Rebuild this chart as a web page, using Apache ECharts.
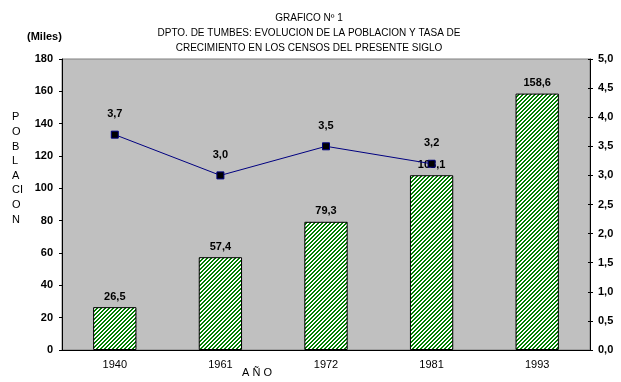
<!DOCTYPE html>
<html>
<head>
<meta charset="utf-8">
<script src="https://cdn.jsdelivr.net/npm/echarts@6/dist/echarts.min.js"></script>
<style>html,body{margin:0;padding:0;background:#fff;}#c{width:621px;height:382px;}</style>
</head>
<body>
<div id="c"></div>
<script>
var years = ['1940', '1961', '1972', '1981', '1993'];
var poblacion = [26.5, 57.4, 79.3, 108.1, 158.6];
var tasa = [3.7, 3.0, 3.5, 3.2];
var leftTicks = [0, 180, 20];
var rightTicks = [0, 5, 0.5];

function fmt(v, d) { return Number(v).toFixed(d).replace('.', ','); }

var tile = document.createElement('canvas');
tile.width = 4; tile.height = 4;
var tctx = tile.getContext('2d');
tctx.fillStyle = '#ffffff'; tctx.fillRect(0, 0, 4, 4);
tctx.fillStyle = '#008000';
for (var x = 0; x < 4; x++) for (var y = 0; y < 4; y++) {
  if ((x + y) % 4 < 2) tctx.fillRect(x, y, 1, 1);
}

var FONT = 'Liberation Sans, Arial, sans-serif';
var chart = echarts.init(document.getElementById('c'), null, {renderer: 'canvas'});
chart.setOption({
  animation: false,
  backgroundColor: '#ffffff',
  textStyle: {fontFamily: FONT},
  title: {
    text: 'GRAFICO Nº 1\nDPTO. DE TUMBES: EVOLUCION DE LA POBLACION Y TASA DE\nCRECIMIENTO EN LOS CENSOS DEL PRESENTE SIGLO',
    left: 304, top: 6, textAlign: 'center',
    textStyle: {fontFamily: FONT, fontSize: 10, fontWeight: 'normal', color: '#000', lineHeight: 15}
  },
  graphic: [
    {type: 'text', left: 27, top: 31, style: {text: '(Miles)', font: 'bold 11px ' + FONT, fill: '#000'}},
    {type: 'text', left: 12, top: 110, style: {text: 'P\nO\nB\nL\nA\nCI\nO\nN', font: '11px ' + FONT, fill: '#000', lineHeight: 14.6, textAlign: 'left'}},
    {type: 'text', left: 242, top: 367, style: {text: 'A Ñ O', font: '11px ' + FONT, fill: '#000'}}
  ],
  grid: {left: 62, right: 31, top: 59, bottom: 32, show: true, backgroundColor: '#c0c0c0', borderColor: '#808080', borderWidth: 1},
  xAxis: {
    type: 'category', data: years,
    axisLine: {lineStyle: {color: '#000', width: 1}},
    axisTick: {length: 4, lineStyle: {color: '#000'}},
    axisLabel: {color: '#000', fontSize: 11, margin: 9, fontFamily: FONT}
  },
  yAxis: [
    {
      type: 'value', min: leftTicks[0], max: leftTicks[1], interval: leftTicks[2], position: 'left',
      axisLine: {show: true, lineStyle: {color: '#000'}},
      axisTick: {show: true, length: 3, lineStyle: {color: '#000'}},
      splitLine: {show: false},
      axisLabel: {color: '#000', fontWeight: 'bold', fontSize: 11, margin: 9, fontFamily: FONT}
    },
    {
      type: 'value', min: rightTicks[0], max: rightTicks[1], interval: rightTicks[2], position: 'right',
      axisLine: {show: true, lineStyle: {color: '#000'}},
      axisTick: {show: true, length: 3, lineStyle: {color: '#000'}},
      splitLine: {show: false},
      axisLabel: {color: '#000', fontWeight: 'bold', fontSize: 11, margin: 8, fontFamily: FONT,
        formatter: function (v) { return fmt(v, 1); }}
    },
    {
      type: 'value', min: rightTicks[0], max: rightTicks[1], interval: rightTicks[2], position: 'right',
      axisLine: {show: false},
      axisTick: {show: true, inside: true, length: 2, lineStyle: {color: '#000'}},
      splitLine: {show: false},
      axisLabel: {show: false}
    }
  ],
  series: [
    {
      type: 'bar', data: poblacion, yAxisIndex: 0, barWidth: '41%',
      itemStyle: {color: {image: tile, repeat: 'repeat'}, borderColor: '#000', borderWidth: 1},
      label: {show: true, position: 'top', distance: 5, color: '#000', fontWeight: 'bold', fontSize: 11, fontFamily: FONT,
        formatter: function (p) { return fmt(p.value, 1); }}
    },
    {
      type: 'line', data: tasa, yAxisIndex: 1,
      symbol: 'rect', symbolSize: 7,
      lineStyle: {color: '#000080', width: 1},
      itemStyle: {color: '#000000', borderColor: '#000080', borderWidth: 1},
      label: {show: true, position: 'top', distance: 11, color: '#000', fontWeight: 'bold', fontSize: 11, fontFamily: FONT,
        formatter: function (p) { return fmt(p.value, 1); }}
    }
  ]
});
</script>
</body>
</html>
